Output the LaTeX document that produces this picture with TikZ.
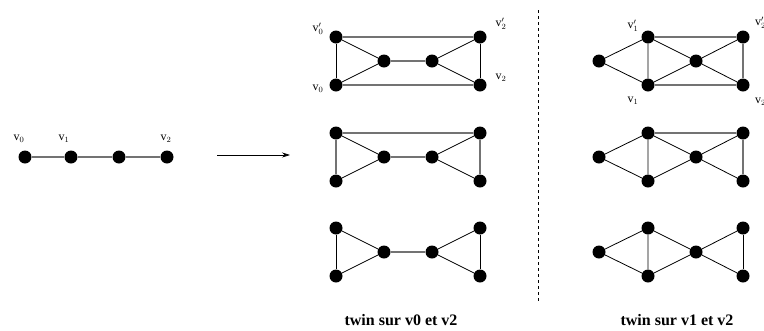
\documentclass[tikz,border=0pt]{standalone}
\usepackage{fontspec}
\setmainfont{Liberation Serif}
\usetikzlibrary{arrows.meta}
\tikzset{
  vtx/.style={circle,fill=black,inner sep=0pt,minimum size=13pt},
  ge/.style={draw=black!55,line width=1.4pt},
  be/.style={draw=black,line width=0.8pt},
  lab/.style={font=\fontsize{12}{12}\selectfont,inner sep=0pt},
  captxt/.style={font=\fontsize{16}{16}\selectfont\bfseries,inner sep=0pt}
}
\newcommand{\vl}[1]{$\mathrm{v}_{#1}$}
\newcommand{\vp}[1]{$\mathrm{v}^{\prime}_{#1}$}
\begin{document}
\begin{tikzpicture}[x=1pt,y=-1pt]
\useasboundingbox (0,0) rectangle (764,330);
% path graph
\node[vtx] (p0) at (25,157) {};
\node[vtx] (p1) at (71,157) {};
\node[vtx] (p2) at (119,157) {};
\node[vtx] (p3) at (167,157) {};
\draw[ge] (p0) -- (p1) -- (p2) -- (p3);
\node[lab] (lp0) at (19,139) {\vl{0}};
\node[lab] (lp1) at (64,139) {\vl{1}};
\node[lab] (lp3) at (166,139) {\vl{2}};
% arrow
\coordinate (as) at (217,155);
\coordinate (ae) at (290,155);
\draw[-{Stealth[length=8pt,width=5pt]},line width=0.6pt] (as) -- (ae);
% middle graphs
\foreach \n/\y in {a/0,b/96,c/191}{
  \node[vtx] (\n1) at (336,37+\y) {};
  \node[vtx] (\n2) at (336,85+\y) {};
  \node[vtx] (\n3) at (384,61+\y) {};
  \node[vtx] (\n4) at (432,61+\y) {};
  \node[vtx] (\n5) at (480,37+\y) {};
  \node[vtx] (\n6) at (480,85+\y) {};
}
% graph a
\draw[ge] (a1) -- (a5);
\draw[ge] (a2) -- (a6);
\draw[ge] (a3) -- (a4);
\draw[be] (a1) -- (a2);
\draw[be] (a5) -- (a6);
\draw[be] (a1) -- (a3) -- (a2);
\draw[be] (a5) -- (a4) -- (a6);
\node[lab] (la1) at (318,29) {\vp{0}};
\node[lab] (la2) at (318,89) {\vl{0}};
\node[lab] (la5) at (501,24) {\vp{2}};
\node[lab] (la6) at (501,78) {\vl{2}};
% graph b
\draw[ge] (b1) -- (b5);
\draw[ge] (b3) -- (b4);
\draw[ge] (b1) -- (b2);
\draw[ge] (b5) -- (b6);
\draw[be] (b1) -- (b3) -- (b2);
\draw[be] (b5) -- (b4) -- (b6);
% graph c
\draw[ge] (c3) -- (c4);
\draw[be] (c1) -- (c2);
\draw[be] (c5) -- (c6);
\draw[be] (c1) -- (c3) -- (c2);
\draw[be] (c5) -- (c4) -- (c6);
% right graphs
\foreach \n/\y in {d/0,e/96,f/191}{
  \node[vtx] (\n0) at (599,61+\y) {};
  \node[vtx] (\n1) at (648,37+\y) {};
  \node[vtx] (\n2) at (648,85+\y) {};
  \node[vtx] (\n3) at (696,61+\y) {};
  \node[vtx] (\n5) at (743,37+\y) {};
  \node[vtx] (\n6) at (743,85+\y) {};
}
% graph d
\draw[ge] (d1) -- (d5);
\draw[ge] (d2) -- (d6);
\draw[ge] (d5) -- (d6);
\draw[be] (d0) -- (d1) -- (d2) -- (d0);
\draw[be] (d1) -- (d3) -- (d2);
\draw[be] (d5) -- (d3) -- (d6);
\node[lab] (ld1) at (633,26) {\vp{1}};
\node[lab] (ld2) at (633,101) {\vl{1}};
\node[lab,anchor=west] (ld5) at (755,23) {\vp{2}};
\node[lab,anchor=west] (ld6) at (755,102) {\vl{2}};
% graph e
\draw[ge] (e1) -- (e5);
\draw[ge] (e5) -- (e6);
\draw[be] (e0) -- (e1) -- (e2) -- (e0);
\draw[be] (e1) -- (e3) -- (e2);
\draw[be] (e5) -- (e3) -- (e6);
% graph f
\draw[be] (f5) -- (f6);
\draw[be] (f0) -- (f1) -- (f2) -- (f0);
\draw[be] (f1) -- (f3) -- (f2);
\draw[be] (f5) -- (f3) -- (f6);
% separator
\coordinate (s1) at (538,10);
\coordinate (s2) at (538,302);
\draw[line width=0.6pt,dash pattern=on 3pt off 3pt] (s1) -- (s2);
% captions
\node[captxt] (c1t) at (401,320) {twin sur v0 et v2};
\node[captxt] (c2t) at (677,320) {twin sur v1 et v2};
\end{tikzpicture}
\end{document}
